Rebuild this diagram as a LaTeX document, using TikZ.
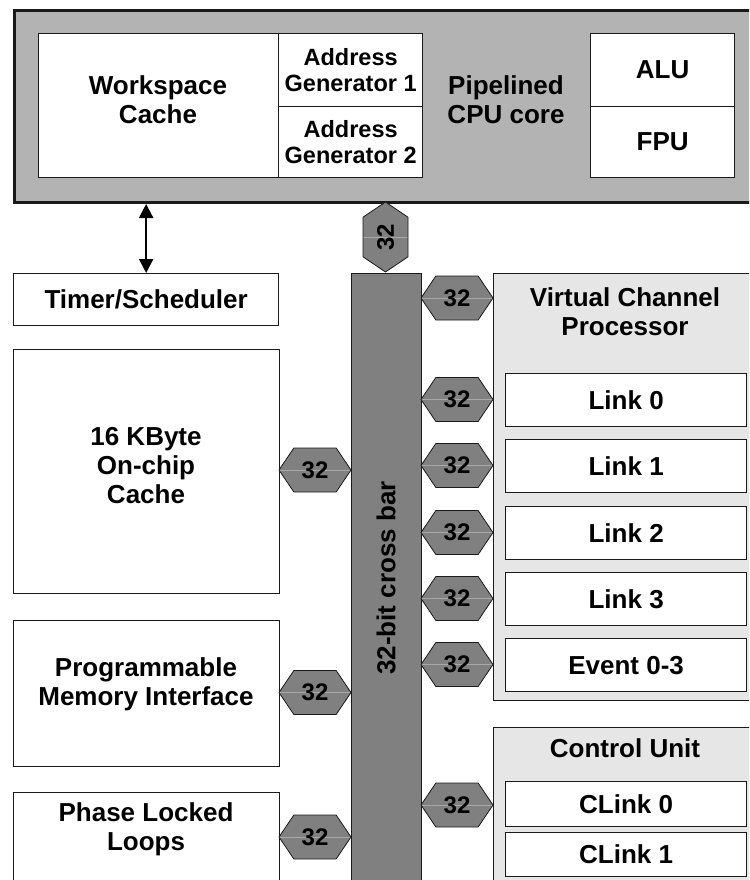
\documentclass[tikz,border=0pt]{standalone}
\usepackage{fontspec}
\setmainfont{Liberation Sans}
\usetikzlibrary{shapes.symbols,arrows.meta,calc}
\definecolor{topgray}{HTML}{B3B3B3}
\definecolor{lightfill}{HTML}{E6E6E6}
\definecolor{midgray}{HTML}{808080}
\definecolor{edgecol}{HTML}{1A1A1A}
\definecolor{hexline}{HTML}{A8A8A8}
\begin{document}
\begin{tikzpicture}[x=1pt,y=-1pt,
  every node/.style={font=\fontsize{26}{29}\selectfont\bfseries, align=center},
  box/.style={draw=edgecol, line width=1.3pt, fill=white, inner sep=0pt, anchor=north west},
  outerbox/.style={draw=edgecol, line width=3pt, fill=topgray, inner sep=0pt, anchor=north west},
  grpbox/.style={draw=edgecol, line width=1.3pt, fill=lightfill, inner sep=0pt, anchor=north west},
  barbox/.style={draw=edgecol, line width=1.3pt, fill=midgray, inner sep=0pt, anchor=north west},
  small/.style={font=\fontsize{23.5}{26}\selectfont\bfseries},
  hex/.style={shape=signal, signal to=east and west, signal pointer angle=112,
    draw=edgecol, line width=0.8pt, fill=midgray, minimum width=72pt, minimum height=44pt,
    inner sep=0pt, font=\fontsize{24}{26}\selectfont\bfseries,
    path picture={\draw[hexline, line width=0.7pt] (path picture bounding box.west) -- (path picture bounding box.east);}},
  vhex/.style={hex, minimum width=70pt, minimum height=45pt, rotate=90},
  dblarrow/.style={line width=2pt, {Triangle[width=14pt,length=14pt]}-{Triangle[width=14pt,length=14pt]}},
  plain/.style={inner sep=0pt}
]
\useasboundingbox (0,0) rectangle (749,880);
\clip (0,0) rectangle (749,880);

% top CPU block
\node[outerbox, minimum width=770pt, minimum height=191.5pt] (top) at (13,9.5) {};
\node[box, minimum width=240pt, minimum height=144pt] (wc) at (38,33) {};
\node[plain] (wct) at (158,100) {Workspace\\Cache};
\node[box, small, minimum width=144pt, minimum height=73pt] (ag1) at (278,33) {Address\\Generator 1};
\node[box, small, minimum width=144pt, minimum height=71pt] (ag2) at (278,106) {Address\\Generator 2};
\node[plain] (cpu) at (506,100) {Pipelined\\CPU core};
\node[box, minimum width=144pt, minimum height=73pt] (alu) at (590,33) {ALU};
\node[box, minimum width=144pt, minimum height=71pt] (fpu) at (590,106) {FPU};

% left column
\node[box, minimum width=265pt, minimum height=52pt] (timer) at (13,273) {Timer/Scheduler};
\node[box, minimum width=266pt, minimum height=244pt] (cache) at (13,349) {};
\node[plain] (cachet) at (146,466) {16 KByte\\On-chip\\Cache};
\node[box, minimum width=266pt, minimum height=146pt] (pmi) at (13,620) {};
\node[plain] (pmit) at (146,684) {Programmable\\Memory Interface};
\node[box, minimum width=266pt, minimum height=120pt] (pll) at (13,792) {};
\node[plain] (pllt) at (146,829) {Phase Locked\\Loops};

% cross bar
\node[barbox, minimum width=70pt, minimum height=640pt] (xbar) at (351,273) {};
\node[plain, rotate=90] (xbart) at (386,578) {32-bit cross bar};

% virtual channel processor
\node[grpbox, minimum width=290pt, minimum height=427pt] (vcp) at (493,273) {};
\node[plain] (vcpt) at (625,312) {Virtual Channel\\Processor};
\node[box, minimum width=241pt, minimum height=53pt] (l0) at (505,373) {Link 0};
\node[box, minimum width=241pt, minimum height=53pt] (l1) at (505,439) {Link 1};
\node[box, minimum width=241pt, minimum height=53pt] (l2) at (505,506) {Link 2};
\node[box, minimum width=241pt, minimum height=53pt] (l3) at (505,572) {Link 3};
\node[box, minimum width=241pt, minimum height=53pt] (ev) at (505,638) {Event 0-3};

% control unit
\node[grpbox, minimum width=290pt, minimum height=200pt] (cu) at (493,727) {};
\node[plain] (cut) at (625,748) {Control Unit};
\node[box, minimum width=241pt, minimum height=45pt] (cl0) at (505,781) {CLink 0};
\node[box, minimum width=241pt, minimum height=44pt] (cl1) at (505,832) {CLink 1};

% connector between CPU and timer
\draw[dblarrow] (timer.north |- top.south) -- (timer.north);

% bus hexagons
\node[vhex] (hcpu) at (385.5,237) {32};
\node[hex] (hvcp) at (457,298) {32};
\node[hex] (hl0) at (457,399.5) {32};
\node[hex] (hl1) at (457,465.5) {32};
\node[hex] (hl2) at (457,532.5) {32};
\node[hex] (hl3) at (457,598.5) {32};
\node[hex] (hev) at (457,664.5) {32};
\node[hex] (hcl) at (457,805) {32};
\node[hex] (hcache) at (315,470) {32};
\node[hex] (hpmi) at (315,692.5) {32};
\node[hex] (hpll) at (315,837) {32};
\end{tikzpicture}
\end{document}
